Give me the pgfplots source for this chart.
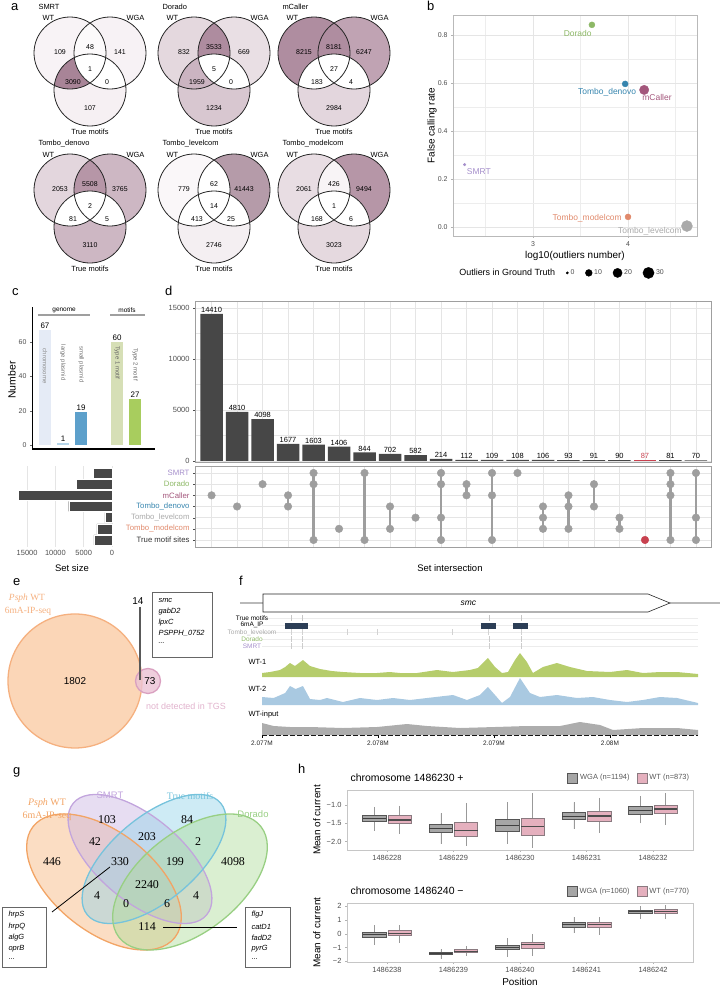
\documentclass[border=0pt]{standalone}
\usepackage{fontspec}
\setmainfont{Liberation Sans}
\newfontfamily\tms{Liberation Serif}
\usepackage{pgfplots}
\pgfplotsset{compat=1.18}
\usepgfplotslibrary{statistics}

\newcommand\fs[1]{\fontsize{#1}{#1}\selectfont}

\definecolor{cSMRT}{HTML}{A58FCB}
\definecolor{cDor}{HTML}{8DB866}
\definecolor{cMC}{HTML}{A3567B}
\definecolor{cDen}{HTML}{3685AE}
\definecolor{cLev}{HTML}{A9A9A9}
\definecolor{cMod}{HTML}{E0896B}
\definecolor{cRed}{HTML}{C8414F}
\definecolor{cBar}{HTML}{474747}
\definecolor{cGrid}{HTML}{E5E5E5}
\definecolor{cTick}{HTML}{4D4D4D}
\definecolor{cDot}{HTML}{9E9E9E}
\definecolor{cChr}{HTML}{E5EBF6}
\definecolor{cLp}{HTML}{B5D5E9}
\definecolor{cSp}{HTML}{5DA0CB}
\definecolor{cT1}{HTML}{D6DFB6}
\definecolor{cT2}{HTML}{A8CD5E}
\definecolor{eOr}{HTML}{FBD6B7}
\definecolor{eOrD}{HTML}{F5B07F}
\definecolor{ePk}{HTML}{EBC2D4}
\definecolor{ePkD}{HTML}{D9A0C0}
\definecolor{gOr}{HTML}{F7B47A}
\definecolor{gPu}{HTML}{C9B3E2}
\definecolor{gBl}{HTML}{92D2E8}
\definecolor{gGr}{HTML}{AEDC98}
\definecolor{gOrD}{HTML}{F2A465}
\definecolor{gPuD}{HTML}{C2A5DD}
\definecolor{gBlD}{HTML}{76C3DC}
\definecolor{gGrD}{HTML}{98CF83}
\definecolor{cWT1}{HTML}{B6CD6C}
\definecolor{cWT2}{HTML}{A9C9E1}
\definecolor{cInp}{HTML}{ADADAD}
\definecolor{cIP}{HTML}{2C3E56}
\definecolor{cWGAf}{HTML}{A6A6A6}
\definecolor{cWGAd}{HTML}{555555}
\definecolor{cWTf}{HTML}{E5B0BE}
\definecolor{cWTd}{HTML}{8A7A80}

\pgfplotsset{
  every axis/.append style={scale only axis},
  /pgf/number format/assume math mode=true,
  /pgf/number format/1000 sep={},
  tick label style={font=\fs{7}, text=cTick},
  wga/.style={fill=cWGAf, draw=cWGAd, line width=0.6bp,
    boxplot/every median/.style={draw=black!75, line width=1.2bp},
    boxplot/every whisker/.style={draw=gray!80, line width=0.6bp},
    boxplot/whisker extend=0},
  wt/.style={fill=cWTf, draw=cWTd, line width=0.6bp,
    boxplot/every median/.style={draw=black!70, line width=1.2bp},
    boxplot/every whisker/.style={draw=gray!80, line width=0.6bp},
    boxplot/whisker extend=0},
}

\newcommand\vcol[7]{%
  \definecolor{vA}{HTML}{#1}\definecolor{vAB}{HTML}{#2}\definecolor{vB}{HTML}{#3}%
  \definecolor{vABC}{HTML}{#4}\definecolor{vAC}{HTML}{#5}\definecolor{vBC}{HTML}{#6}%
  \definecolor{vC}{HTML}{#7}}

% #1 centre, #2 title, then counts: WT, WT&WGA, WGA, all, WT&True, WGA&True, True
\newcommand\venn[9]{%
\begin{axis}[at={#1}, anchor=center, width=120bp, height=120bp,
    xmin=-60, xmax=60, ymin=-60, ymax=60, hide axis, clip=false]
  \fill[vA] (-20,13) circle[radius=36bp];
  \fill[vB] (20,13) circle[radius=36bp];
  \fill[vC] (0,-24) circle[radius=36bp];
  \begin{scope}
    \clip (-20,13) circle[radius=36bp];
    \fill[vAB] (20,13) circle[radius=36bp];
    \fill[vAC] (0,-24) circle[radius=36bp];
  \end{scope}
  \begin{scope}
    \clip (20,13) circle[radius=36bp];
    \fill[vBC] (0,-24) circle[radius=36bp];
    \clip (-20,13) circle[radius=36bp];
    \fill[vABC] (0,-24) circle[radius=36bp];
  \end{scope}
  \draw[line width=0.8bp, black!85] (-20,13) circle[radius=36bp]
    (20,13) circle[radius=36bp] (0,-24) circle[radius=36bp];
  \node[anchor=west, font=\fs{7.5}] at (-55,59) {#2};
  \node[anchor=west, font=\fs{7.5}] at (-51,48) {WT};
  \node[anchor=east, font=\fs{7.5}] at (58,48) {WGA};
  \node[font=\fs{7.5}] at (0,-66) {True motifs};
  \node[font=\fs{7}] at (-30,14) {#3};
  \node[font=\fs{7}] at (0,19) {#4};
  \node[font=\fs{7}] at (30,14) {#5};
  \node[font=\fs{7}] at (0,-3) {#6};
  \node[font=\fs{7}] at (-17,-16) {#7};
  \node[font=\fs{7}] at (17,-16) {#8};
  \node[font=\fs{7}] at (0,-42) {#9};
\end{axis}}

% boxplot: style, position, lw, lq, median, uq, uw
\newcommand\bx[7]{\addplot[#1, boxplot prepared={draw direction=y, draw position=#2,
  lower whisker=#3, lower quartile=#4, median=#5, upper quartile=#6,
  upper whisker=#7, box extend=0.35}] coordinates {};}

\begin{document}
\begin{tikzpicture}
\useasboundingbox (0bp,0bp) rectangle (720bp,-997bp);

% ---------------- a: Venn diagrams
\vcol{F8F3F6}{FCFAFB}{F7F2F5}{FFFFFF}{A88497}{FFFFFF}{F6F0F3}
\venn{(90bp,-66bp)}{SMRT}{109}{48}{141}{1}{3090}{0}{107}
\vcol{E4D8DE}{AE8C9F}{E9DFE4}{FFFFFF}{CBB4C1}{FFFFFF}{D8C7D0}
\venn{(214bp,-66bp)}{Dorado}{832}{3533}{669}{5}{1959}{0}{1234}
\vcol{AF8DA0}{AF8DA0}{C0A3B3}{FFFFFF}{FFFFFF}{FFFFFF}{E3D6DD}
\venn{(334bp,-66bp)}{mCaller}{8215}{8181}{6247}{27}{183}{4}{2984}
\vcol{E3D6DD}{B696A7}{CDB7C3}{FFFFFF}{FFFFFF}{FFFFFF}{CDB7C3}
\venn{(90bp,-203bp)}{Tombo\_denovo}{2053}{5508}{3765}{2}{81}{5}{3110}
\vcol{FAF7F9}{FFFFFF}{B59BA9}{FFFFFF}{FFFFFF}{FFFFFF}{F4EFF2}
\venn{(214bp,-203bp)}{Tombo\_levelcom}{779}{62}{41443}{14}{413}{25}{2746}
\vcol{E8DDE3}{F8F4F6}{B696A7}{FFFFFF}{FFFFFF}{FFFFFF}{E5D9DF}
\venn{(334bp,-203bp)}{Tombo\_modelcom}{2061}{426}{9494}{1}{168}{6}{3023}

% ---------------- b: scatter
\begin{axis}[at={(453bp,-15bp)}, anchor=north west, width=244bp, height=221bp,
  xmin=2.158, xmax=4.726, ymin=-0.0375, ymax=0.883,
  xtick={3,4}, ytick={0,0.2,0.4,0.6,0.8},
  minor xtick={2.5,3.5,4.5}, minor ytick={0.1,0.3,0.5,0.7},
  grid=both, major grid style={cGrid, line width=0.6bp},
  minor grid style={cGrid!70, line width=0.4bp},
  axis line style={gray!55, line width=0.6bp},
  tick pos=left, tick align=outside, major tick length=2bp, minor tick length=0pt,
  tick style={gray!60},
  yticklabel style={/pgf/number format/.cd, fixed, fixed zerofill, precision=1},
  clip=false,
  legend columns=5,
  legend style={draw=none, fill=none, font=\fs{7}, text=cTick,
    at={(0.445,-0.167)}, anchor=center,
    /tikz/every even column/.append style={column sep=9bp}},
]
\addlegendimage{empty legend}\addlegendentry{\fs{9}\color{black}Outliers in Ground Truth}
\addlegendimage{only marks, mark=*, black, mark size=1.2bp}\addlegendentry{0}
\addlegendimage{only marks, mark=*, black, mark size=3.4bp}\addlegendentry{10}
\addlegendimage{only marks, mark=*, black, mark size=4.6bp}\addlegendentry{20}
\addlegendimage{only marks, mark=*, black, mark size=5.6bp}\addlegendentry{30}
\addplot[only marks, mark=*, mark size=3bp, cDor] coordinates {(3.62,0.842)};
\addplot[only marks, mark=*, mark size=3bp, cDen] coordinates {(3.97,0.596)};
\addplot[only marks, mark=*, mark size=4.7bp, cMC] coordinates {(4.17,0.571)};
\addplot[only marks, mark=*, mark size=1.3bp, cSMRT] coordinates {(2.28,0.26)};
\addplot[only marks, mark=*, mark size=3bp, cMod] coordinates {(4.0,0.042)};
\addplot[only marks, mark=*, mark size=5.5bp, cLev] coordinates {(4.62,0.004)};
\node[font=\fs{8.5}, text=cDor] at (3.47,0.808) {Dorado};
\node[font=\fs{8.5}, text=cDen] at (3.78,0.5625) {Tombo\_denovo};
\node[font=\fs{8.5}, text=cMC] at (4.305,0.5375) {mCaller};
\node[font=\fs{8.5}, text=cSMRT] at (2.43,0.229) {SMRT};
\node[font=\fs{8.5}, text=cMod] at (3.57,0.0375) {Tombo\_modelcom};
\node[font=\fs{8.5}, text=cLev] at (4.23,-0.017) {Tombo\_levelcom};
\node[rotate=90, font=\fs{10}] at (axis description cs:-0.086,0.5) {False calling rate};
\node[font=\fs{10}] at (axis description cs:0.5,-0.0905) {log10(outliers number)};
\end{axis}

% ---------------- c: genome / motif counts
\begin{axis}[at={(32bp,-307bp)}, anchor=north west, width=123bp, height=142bp,
  xmin=0.28, xmax=7.1, ymin=-2.3, ymax=80.5,
  axis x line*=bottom, axis y line*=left,
  x axis line style={-, line width=1.5bp, black},
  y axis line style={-, line width=0.8bp, black},
  xtick=\empty, ytick={0,20,40,60}, tick align=outside, major tick length=2bp,
  ytick style={black!60}, clip=false]
\addplot[ybar, bar width=12bp, bar shift=0pt, fill=cChr, draw=none,
  nodes near coords, nodes near coords style={font=\fs{8}, text=black, inner sep=1.5bp}]
  coordinates {(1,67)};
\addplot[ybar, bar width=12bp, bar shift=0pt, fill=cLp, draw=none,
  nodes near coords, nodes near coords style={font=\fs{8}, text=black, inner sep=1.5bp}]
  coordinates {(2,1)};
\addplot[ybar, bar width=12bp, bar shift=0pt, fill=cSp, draw=none,
  nodes near coords, nodes near coords style={font=\fs{8}, text=black, inner sep=1.5bp}]
  coordinates {(3,19)};
\addplot[ybar, bar width=12bp, bar shift=0pt, fill=cT1, draw=none,
  nodes near coords, nodes near coords style={font=\fs{8}, text=black, inner sep=1.5bp}]
  coordinates {(5,60)};
\addplot[ybar, bar width=12bp, bar shift=0pt, fill=cT2, draw=none,
  nodes near coords, nodes near coords style={font=\fs{8}, text=black, inner sep=1.5bp}]
  coordinates {(6,27)};
\node[rotate=-90, font=\fs{6}, text=black!45] at (1,46) {chromosome};
\node[rotate=-90, font=\fs{6}, text=black!55] at (2,48) {large plasmid};
\node[rotate=-90, font=\fs{6}, text=black!55] at (3,47) {small plasmid};
\node[rotate=-90, font=\fs{6}, text=black!60] at (5,48) {Type 1 motif};
\node[rotate=-90, font=\fs{6}, text=black!60] at (6,47) {Type 2 motif};
\draw[gray!75, line width=1.3bp] (0.61,75.8) -- (3.5,75.8);
\draw[gray!75, line width=1.3bp] (4.61,75.8) -- (6.56,75.8);
\node[anchor=south, font=\fs{6.5}, inner sep=1bp] at (2.06,76.5) {genome};
\node[anchor=south, font=\fs{6.5}, inner sep=1bp] at (5.55,76.5) {motifs};
\node[rotate=90, font=\fs{10.5}] at (axis description cs:-0.163,0.486) {Number};
\end{axis}

% ---------------- c (lower): set sizes
\begin{axis}[at={(15bp,-466bp)}, anchor=north west, width=100bp, height=81bp,
  x dir=reverse, xmin=-530, xmax=17140, y dir=reverse, ymin=0.373, ymax=7.63,
  xtick={0,5000,10000,15000}, ytick=\empty, scaled x ticks=false,
  xmajorgrids, grid style={cGrid, line width=0.6bp},
  axis line style={draw=none}, tick style={draw=none},
  xticklabel style={font=\fs{7.5}}, clip=false]
\addplot[xbar, bar width=10bp, bar shift=0pt, fill=cBar, draw=white, line width=0.4bp]
  coordinates {(3248,1) (6329,2) (16606,3) (7644,4) (1268,5) (2656,6) (3198,7)};
\node[font=\fs{9.5}] at (axis description cs:0.57,-0.26) {Set size};
\end{axis}

% ---------------- d: intersection sizes
\begin{axis}[at={(195bp,-301bp)}, anchor=north west, width=516bp, height=161bp,
  xmin=-0.65, xmax=19.59, ymin=-100, ymax=15680,
  xtick={0,...,19}, xticklabels={}, ytick={0,5000,10000,15000},
  minor ytick={2500,7500,12500},
  grid=both, major grid style={cGrid, line width=0.7bp},
  minor grid style={cGrid, line width=0.5bp},
  axis line style={gray!75, line width=1bp}, xtick style={draw=none},
  ytick style={black!70}, tick pos=left, tick align=outside, major tick length=2bp,
  minor tick length=0pt, scaled y ticks=false, yticklabel style={font=\fs{7.5}},
  clip=false]
\addplot[ybar, bar width=22.5bp, bar shift=0pt, fill=cBar, draw=none,
  nodes near coords, nodes near coords style={font=\fs{7.5}, text=black, inner sep=1bp}]
  coordinates {(0,14410) (1,4810) (2,4098) (3,1677) (4,1603) (5,1406) (6,844)
  (7,702) (8,582) (9,214) (10,112) (11,109) (12,108) (13,106) (14,93) (15,91)
  (16,90) (18,81) (19,70)};
\addplot[ybar, bar width=22.5bp, bar shift=0pt, fill=cRed, draw=none,
  nodes near coords, nodes near coords style={font=\fs{7.5}, text=cRed, inner sep=1bp}]
  coordinates {(17,87)};
\end{axis}

% ---------------- d: membership matrix
\begin{axis}[at={(195bp,-466bp)}, anchor=north west, width=516bp, height=81bp,
  xmin=-0.65, xmax=19.59, y dir=reverse, ymin=0.373, ymax=7.63,
  xtick={0,...,19}, xticklabels={}, ytick={1,...,7},
  yticklabels={\textcolor{cSMRT}{SMRT}, \textcolor{cDor}{Dorado},
    \textcolor{cMC}{mCaller}, \textcolor{cDen}{Tombo\_denovo},
    \textcolor{cLev}{Tombo\_levelcom}, \textcolor{cMod}{Tombo\_modelcom},
    \textcolor{black!80}{True motif sites}},
  yticklabel style={font=\fs{7.8}},
  grid=major, grid style={cGrid, line width=0.7bp},
  axis line style={gray!75, line width=1bp}, xtick style={draw=none},
  ytick style={black!70}, tick pos=left, tick align=outside, major tick length=2bp,
  unbounded coords=jump, clip=false]
\addplot[cDot, line width=2.6bp] coordinates {
  (3,3) (3,4) (nan,nan) (4,1) (4,7) (nan,nan) (6,1) (6,7) (nan,nan)
  (7,4) (7,6) (nan,nan) (9,1) (9,7) (nan,nan) (10,2) (10,3) (nan,nan)
  (11,1) (11,7) (nan,nan) (13,4) (13,6) (nan,nan) (14,3) (14,6) (nan,nan)
  (15,2) (15,4) (nan,nan) (16,5) (16,6) (nan,nan) (18,1) (18,7) (nan,nan)
  (19,1) (19,7)};
\addplot[only marks, mark=*, mark size=3.8bp, cDot] coordinates {
  (0,3) (1,4) (2,2) (3,3) (3,4) (4,1) (4,2) (4,7) (5,6) (6,1) (6,7)
  (7,4) (7,6) (8,5) (9,1) (9,2) (9,5) (9,7) (10,2) (10,3) (11,1) (11,3)
  (11,7) (12,1) (13,4) (13,5) (13,6) (14,3) (14,4) (14,6) (15,2) (15,4)
  (16,5) (16,6) (18,1) (18,2) (18,3) (18,7) (19,1) (19,5) (19,7)};
\addplot[only marks, mark=*, mark size=3.8bp, cRed] coordinates {(17,7)};
\node[font=\fs{9.5}] at (axis description cs:0.494,-0.26) {Set intersection};
\end{axis}

% ---------------- e and g: Venn diagrams on a page-sized canvas
\begin{axis}[at={(0bp,0bp)}, anchor=north west, width=720bp, height=997bp,
  xmin=0, xmax=720, ymin=-997, ymax=0, hide axis, clip=false]
% e
\fill[eOr] (75,-681) circle[radius=67bp];
\draw[eOrD, line width=1.3bp] (75,-681) circle[radius=67bp];
\fill[ePk, fill opacity=0.8] (148,-681) circle[radius=12.5bp];
\draw[ePkD, line width=1.3bp] (148,-681) circle[radius=12.5bp];
\node[font=\fs{10}] at (75,-681) {1802};
\node[font=\fs{10}] at (150,-681) {73};
\node[font=\fs{10}] at (138,-601) {14};
\draw[black!65, line width=1.2bp] (140,-607) -- (140,-680);
\draw[black!60, line width=1bp] (152,-593) rectangle (212,-658);
\node[anchor=west, font=\fs{7.5}\itshape] at (155,-601) {smc};
\node[anchor=west, font=\fs{7.5}\itshape] at (155,-612) {gabD2};
\node[anchor=west, font=\fs{7.5}\itshape] at (155,-623) {lpxC};
\node[anchor=west, font=\fs{7.5}\itshape] at (155,-633.5) {PSPPH\_0752};
\node[anchor=west, font=\fs{7.5}\itshape] at (155,-643) {...};
\node[font=\tms\fs{9.5}, text=eOrD] at (27,-598) {\textit{Psph} WT};
\node[font=\tms\fs{9.5}, text=eOrD] at (28,-611) {6mA-IP-seq};
\node[font=\fs{9}, text=ePkD!80] at (186,-706) {not detected in TGS};
% g
\fill[gOr, fill opacity=0.45, rotate around={-38:(axis cs:104,-882)}]
  (axis cs:104,-882) ellipse (90bp and 50bp);
\fill[gPu, fill opacity=0.45, rotate around={-40:(axis cs:140,-859)}]
  (axis cs:140,-859) ellipse (87bp and 42bp);
\fill[gBl, fill opacity=0.45, rotate around={40:(axis cs:154,-859)}]
  (axis cs:154,-859) ellipse (87bp and 42bp);
\fill[gGr, fill opacity=0.45, rotate around={38:(axis cs:190,-882)}]
  (axis cs:190,-882) ellipse (90bp and 50bp);
\draw[gOrD, line width=1.3bp, rotate around={-38:(axis cs:104,-882)}]
  (axis cs:104,-882) ellipse (90bp and 50bp);
\draw[gPuD, line width=1.3bp, rotate around={-40:(axis cs:140,-859)}]
  (axis cs:140,-859) ellipse (87bp and 42bp);
\draw[gBlD, line width=1.3bp, rotate around={40:(axis cs:154,-859)}]
  (axis cs:154,-859) ellipse (87bp and 42bp);
\draw[gGrD, line width=1.3bp, rotate around={38:(axis cs:190,-882)}]
  (axis cs:190,-882) ellipse (90bp and 50bp);
\node[font=\tms\fs{12}] at (52,-862) {446};
\node[font=\tms\fs{12}] at (107,-820) {103};
\node[font=\tms\fs{12}] at (187,-820) {84};
\node[font=\tms\fs{12}] at (233,-862) {4098};
\node[font=\tms\fs{12}] at (95,-842) {42};
\node[font=\tms\fs{12}] at (147,-837) {203};
\node[font=\tms\fs{12}] at (198,-842) {2};
\node[font=\tms\fs{12}] at (120,-862) {330};
\node[font=\tms\fs{12}] at (175,-862) {199};
\node[font=\tms\fs{12}] at (147,-885) {2240};
\node[font=\tms\fs{12}] at (97,-896) {4};
\node[font=\tms\fs{12}] at (196,-896) {4};
\node[font=\tms\fs{12}] at (126,-904) {0};
\node[font=\tms\fs{12}] at (167,-904) {6};
\node[font=\tms\fs{12}] at (147,-927) {114};
\node[font=\tms\fs{10}, text=gOrD] at (47,-803) {\textit{Psph} WT};
\node[font=\tms\fs{10}, text=gOrD] at (47,-816) {6mA-IP-seq};
\node[font=\fs{9.5}, text=gPuD] at (110,-795) {SMRT};
\node[font=\tms\fs{10}, text=gBlD] at (190,-796) {True motifs};
\node[font=\fs{9.5}, text=gGrD] at (253,-814) {Dorado};
\draw[black!60, line width=1bp] (2,-908) rectangle (46,-968);
\node[anchor=west, font=\fs{7.5}\itshape] at (5,-915) {hrpS};
\node[anchor=west, font=\fs{7.5}\itshape] at (5,-926.5) {hrpQ};
\node[anchor=west, font=\fs{7.5}\itshape] at (5,-937.5) {algG};
\node[anchor=west, font=\fs{7.5}\itshape] at (5,-948.5) {oprB};
\node[anchor=west, font=\fs{7.5}] at (5,-959) {...};
\draw[black, line width=0.8bp] (52,-912) -- (110,-867);
\draw[black!60, line width=1bp] (245,-908) rectangle (290,-968);
\node[anchor=west, font=\fs{7.5}\itshape] at (248,-915) {flgJ};
\node[anchor=west, font=\fs{7.5}\itshape] at (248,-926.5) {catD1};
\node[anchor=west, font=\fs{7.5}\itshape] at (248,-937.5) {fadD2};
\node[anchor=west, font=\fs{7.5}\itshape] at (248,-948.5) {pyrG};
\node[anchor=west, font=\fs{7.5}] at (248,-959) {...};
\draw[black, line width=0.8bp] (163,-927) -- (237,-927);
\end{axis}

% ---------------- f: gene and motif annotation (x in kb from 2.077 Mb)
\begin{axis}[at={(262bp,-588bp)}, anchor=north west, width=436bp, height=62bp,
  xmin=0, xmax=3.759, ymin=-650, ymax=-588, hide axis, clip=false]
\draw[gray!55, line width=2bp] (-0.19,-603) -- (3.948,-603);
\filldraw[fill=white, draw=black!85, line width=0.6bp] (0.009,-594) -- (3.328,-594)
  -- (3.517,-603) -- (3.328,-612) -- (0.009,-612) -- cycle;
\node[font=\fs{8.5}\itshape] at (1.78,-603) {smc};
\draw[gray!15, line width=0.5bp] (0,-618) -- (3.759,-618);
\draw[gray!15, line width=0.5bp] (0,-625) -- (3.759,-625);
\draw[gray!15, line width=0.5bp] (0,-632) -- (3.759,-632);
\draw[gray!15, line width=0.5bp] (0,-639) -- (3.759,-639);
\draw[gray!15, line width=0.5bp] (0,-646) -- (3.759,-646);
\addplot[only marks, mark=|, mark size=2.8bp, gray!45, mark options={line width=0.6bp}]
  coordinates {(0.25,-618) (0.345,-618) (1.957,-618) (2.233,-618)};
\addplot[only marks, mark=|, mark size=2.8bp, gray!35, mark options={line width=0.6bp}]
  coordinates {(0.25,-632) (0.345,-632) (0.733,-632) (0.99,-632) (1.638,-632) (1.948,-632) (2.233,-632)};
\addplot[only marks, mark=|, mark size=2.8bp, gray!40, mark options={line width=0.6bp}]
  coordinates {(0.25,-639) (0.345,-639) (1.957,-639) (2.233,-639)};
\addplot[only marks, mark=|, mark size=2.8bp, gray!40, mark options={line width=0.6bp}]
  coordinates {(0.25,-646) (0.345,-646) (1.957,-646) (2.233,-646)};
\addplot[cIP, line width=6bp] coordinates {(0.198,-625.5) (0.397,-625.5)};
\addplot[cIP, line width=6bp] coordinates {(1.888,-625.5) (2.017,-625.5)};
\addplot[cIP, line width=6bp] coordinates {(2.164,-625.5) (2.293,-625.5)};
\node[font=\fs{6.5}] at (-0.086,-618) {True motifs};
\node[font=\fs{6.5}] at (-0.086,-625) {6mA\_IP};
\node[font=\fs{6.5}, text=cLev] at (-0.086,-632.5) {Tombo\_levelcom};
\node[font=\fs{6.5}, text=cDor] at (-0.086,-639.5) {Dorado};
\node[font=\fs{6.5}, text=cSMRT] at (-0.086,-646.5) {SMRT};
\end{axis}

% ---------------- f: coverage tracks
\begin{axis}[at={(262bp,-650bp)}, anchor=north west, width=436bp, height=27bp,
  xmin=0, xmax=3.759, ymin=0, ymax=27, hide axis, clip=false]
\addplot[fill=cWT1, draw=none] coordinates {
  (0,4) (0.07,5) (0.155,7) (0.2,10) (0.241,14) (0.284,11) (0.353,17) (0.414,11)
  (0.5,8) (0.6,6) (0.698,5) (0.845,4) (0.991,4) (1.1,5) (1.19,4) (1.336,4)
  (1.509,7) (1.647,5) (1.793,7) (1.86,9) (1.905,14) (1.948,19) (2.009,10)
  (2.069,4) (2.121,5) (2.181,17) (2.224,24) (2.284,15) (2.336,4) (2.422,10)
  (2.543,14) (2.655,10) (2.802,6) (3.0,5) (3.147,7) (3.284,4) (3.431,5)
  (3.578,5) (3.759,3)} \closedcycle;
\node[anchor=west, font=\fs{7.5}] at (axis description cs:-0.039,0.556) {WT-1};
\end{axis}
\begin{axis}[at={(262bp,-678bp)}, anchor=north west, width=436bp, height=27bp,
  xmin=0, xmax=3.759, ymin=0, ymax=27, hide axis, clip=false]
\addplot[fill=cWT2, draw=none] coordinates {
  (0,8) (0.1,7) (0.2,12) (0.241,19) (0.29,16) (0.353,19) (0.414,6) (0.5,5)
  (0.56,7) (0.698,3) (0.845,7) (0.991,5) (1.129,7) (1.276,5) (1.422,7)
  (1.647,10) (1.767,5) (1.879,10) (1.948,18) (2.009,10) (2.069,2) (2.138,8)
  (2.224,27) (2.31,12) (2.397,8) (2.543,10) (2.716,7) (2.853,8) (3.0,5)
  (3.147,3) (3.284,5) (3.431,8) (3.578,7) (3.759,2)} \closedcycle;
\node[anchor=west, font=\fs{7.5}] at (axis description cs:-0.039,0.59) {WT-2};
\end{axis}
\begin{axis}[at={(262bp,-720bp)}, anchor=north west, width=436bp, height=15bp,
  xmin=0, xmax=3.759, ymin=0, ymax=15,
  axis x line*=bottom, axis y line=none,
  x axis line style={-, black, line width=1.2bp, dash pattern=on 5bp off 2bp},
  xtick={0,1,2,3}, xticklabels={2.077M,2.078M,2.079M,2.08M},
  xticklabel style={font=\fs{6.5}, text=black!85},
  tick align=outside, major tick length=2.5bp, xtick style={black}, clip=false]
\addplot[fill=cInp, draw=none] coordinates {
  (0,12) (0.1,9) (0.241,8) (0.414,8) (0.698,7) (0.991,8) (1.25,11) (1.422,9)
  (1.707,7) (2.009,8) (2.284,9) (2.569,9) (2.741,13) (2.914,10) (3.026,5)
  (3.284,7) (3.578,7) (3.759,5)} \closedcycle;
\node[anchor=west, font=\fs{7.5}] at (axis description cs:-0.039,1.33) {WT-input};
\end{axis}

% ---------------- h: current boxplots
\begin{axis}[at={(347bp,-790bp)}, anchor=north west, width=346bp, height=60bp,
  xmin=0.4, xmax=5.6, ymin=-2.23, ymax=-0.59,
  xtick={1,...,5}, xticklabels={1486228,1486229,1486230,1486231,1486232},
  ytick={-2,-1.5,-1}, yticklabels={−2.0,−1.5,−1.0},
  ticklabel style={font=\fs{7.5}},
  axis line style={gray!45, line width=0.8bp}, tick style={gray!60},
  tick pos=left, tick align=outside, major tick length=2bp, clip=false,
  legend image code/.code={\draw[#1] (0bp,-5bp) rectangle (10bp,5bp);},
  legend columns=2,
  legend style={draw=none, fill=none, font=\fs{7.5}, text=black!65,
    at={(0.995,1.2)}, anchor=east, inner sep=0pt,
    /tikz/every even column/.append style={column sep=5bp}}]
\addlegendimage{fill=cWGAf, draw=cWGAd, line width=0.8bp}\addlegendentry{WGA (n=1194)}
\addlegendimage{fill=cWTf, draw=cWTd, line width=0.8bp}\addlegendentry{WT (n=873)}
\bx{wga}{0.81}{-1.70}{-1.45}{-1.36}{-1.27}{-1.05}
\bx{wt}{1.19}{-1.79}{-1.50}{-1.41}{-1.29}{-1.02}
\bx{wga}{1.81}{-2.06}{-1.75}{-1.65}{-1.52}{-1.23}
\bx{wt}{2.19}{-2.12}{-1.85}{-1.70}{-1.47}{-0.94}
\bx{wga}{2.81}{-2.06}{-1.72}{-1.56}{-1.38}{-0.92}
\bx{wt}{3.19}{-2.17}{-1.82}{-1.59}{-1.36}{-0.68}
\bx{wga}{3.81}{-1.66}{-1.39}{-1.32}{-1.20}{-0.93}
\bx{wt}{4.19}{-1.77}{-1.44}{-1.30}{-1.16}{-0.80}
\bx{wga}{4.81}{-1.50}{-1.25}{-1.14}{-1.03}{-0.75}
\bx{wt}{5.19}{-1.55}{-1.23}{-1.11}{-1.00}{-0.68}
\node[anchor=west, font=\fs{10.5}] at (axis description cs:0,1.2) {chromosome 1486230 +};
\node[rotate=90, font=\fs{10}] at (axis description cs:-0.087,0.5) {Mean of current};
\end{axis}

\begin{axis}[at={(347bp,-903bp)}, anchor=north west, width=346bp, height=59bp,
  xmin=0.4, xmax=5.6, ymin=-2.05, ymax=2.24,
  xtick={1,...,5}, xticklabels={1486238,1486239,1486240,1486241,1486242},
  ytick={-2,-1,0,1,2}, yticklabels={−2,−1,0,1,2},
  ticklabel style={font=\fs{7.5}},
  axis line style={gray!45, line width=0.8bp}, tick style={gray!60},
  tick pos=left, tick align=outside, major tick length=2bp, clip=false,
  legend image code/.code={\draw[#1] (0bp,-5bp) rectangle (10bp,5bp);},
  legend columns=2,
  legend style={draw=none, fill=none, font=\fs{7.5}, text=black!65,
    at={(0.995,1.2)}, anchor=east, inner sep=0pt,
    /tikz/every even column/.append style={column sep=5bp}}]
\addlegendimage{fill=cWGAf, draw=cWGAd, line width=0.8bp}\addlegendentry{WGA (n=1060)}
\addlegendimage{fill=cWTf, draw=cWTd, line width=0.8bp}\addlegendentry{WT (n=770)}
\bx{wga}{0.81}{-0.79}{-0.26}{-0.07}{0.12}{0.64}
\bx{wt}{1.19}{-0.67}{-0.14}{0.05}{0.24}{0.64}
\bx{wga}{1.81}{-1.81}{-1.52}{-1.43}{-1.33}{-1.14}
\bx{wt}{2.19}{-1.62}{-1.38}{-1.26}{-1.14}{-0.90}
\bx{wga}{2.81}{-1.67}{-1.14}{-0.98}{-0.81}{-0.31}
\bx{wt}{3.19}{-1.62}{-1.02}{-0.79}{-0.60}{0.0}
\bx{wga}{3.81}{0.05}{0.50}{0.69}{0.83}{1.24}
\bx{wt}{4.19}{-0.05}{0.48}{0.67}{0.83}{1.24}
\bx{wga}{4.81}{1.07}{1.48}{1.60}{1.71}{2.0}
\bx{wt}{5.19}{1.07}{1.48}{1.62}{1.76}{2.12}
\node[anchor=west, font=\fs{10.5}] at (axis description cs:0,1.2) {chromosome 1486240 −};
\node[rotate=90, font=\fs{10}] at (axis description cs:-0.087,0.5) {Mean of current};
\node[font=\fs{10}] at (axis description cs:0.5,-0.34) {Position};
\end{axis}

% ---------------- panel letters
\node[anchor=base west, inner sep=0, font=\fs{13}] at (11bp,-10bp) {a};
\node[anchor=base west, inner sep=0, font=\fs{13}] at (427bp,-10bp) {b};
\node[anchor=base west, inner sep=0, font=\fs{13}] at (12bp,-295bp) {c};
\node[anchor=base west, inner sep=0, font=\fs{13}] at (165bp,-295bp) {d};
\node[anchor=base west, inner sep=0, font=\fs{13}] at (13bp,-585bp) {e};
\node[anchor=base west, inner sep=0, font=\fs{13}] at (239bp,-585bp) {f};
\node[anchor=base west, inner sep=0, font=\fs{13}] at (13bp,-774bp) {g};
\node[anchor=base west, inner sep=0, font=\fs{13}] at (298bp,-773bp) {h};
\end{tikzpicture}
\end{document}
